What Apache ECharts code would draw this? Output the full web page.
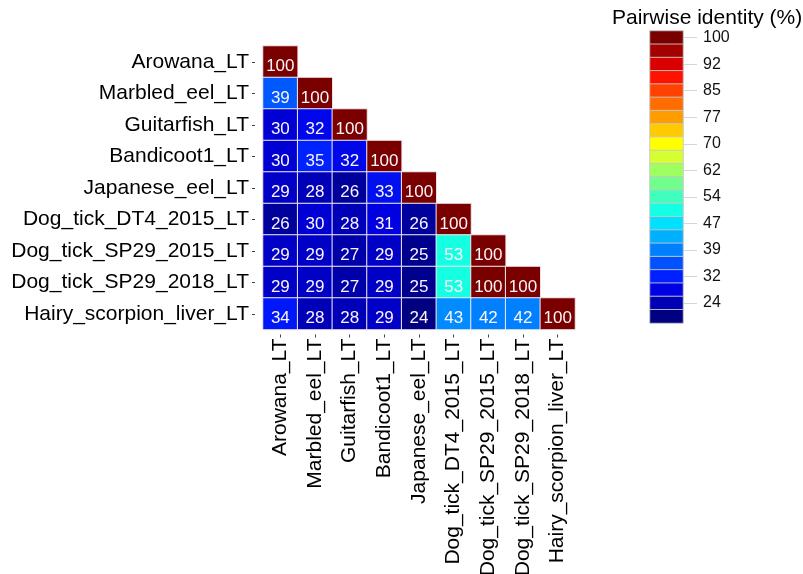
<!DOCTYPE html>
<html>
<head>
<meta charset="utf-8">
<script src="https://cdn.jsdelivr.net/npm/echarts@6/dist/echarts.min.js"></script>
<style>
  html, body { margin: 0; padding: 0; background: #ffffff; }
  #chart { width: 803px; height: 574px; }
</style>
</head>
<body>
<div id="chart"></div>
<script>
// Sample names (rows top to bottom, columns left to right)
const names = [
  'Arowana_LT', 'Marbled_eel_LT', 'Guitarfish_LT', 'Bandicoot1_LT',
  'Japanese_eel_LT', 'Dog_tick_DT4_2015_LT', 'Dog_tick_SP29_2015_LT',
  'Dog_tick_SP29_2018_LT', 'Hairy_scorpion_liver_LT'
];

// Lower-triangle pairwise identity (%), one array per row
const row0 = [100];
const row1 = [39, 100];
const row2 = [30, 32, 100];
const row3 = [30, 35, 32, 100];
const row4 = [29, 28, 26, 33, 100];
const row5 = [26, 30, 28, 31, 26, 100];
const row6 = [29, 29, 27, 29, 25, 53, 100];
const row7 = [29, 29, 27, 29, 25, 53, 100, 100];
const row8 = [34, 28, 28, 29, 24, 43, 42, 42, 100];
const identityRows = [row0, row1, row2, row3, row4, row5, row6, row7, row8];

// Colour key: blocks from top (high) to bottom (low)
const keyColors = [
  '#7a0000', '#a40000', '#d80000', '#ff1200', '#ff4200', '#ff6c00',
  '#ff9c00', '#ffca00', '#ffff00', '#d4ff30', '#a0ff60', '#70ff8c',
  '#40ffbc', '#14ffe4', '#00e0ff', '#00b0ff', '#0080ff', '#0052ff',
  '#0020ff', '#0000e4', '#0000b4', '#000080'
];
// Key tick labels, one for every second block starting at the top
const keyTicks = ['100', '92', '85', '77', '70', '62', '54', '47', '39', '32', '24'];

const valueMin = 24;
const valueMax = 100;

// Heatmap cells [col, row, value]
const cells = [];
identityRows.forEach((vals, r) => {
  vals.forEach((v, c) => cells.push([c, r, v]));
});

// Key blocks, one per colour
const keyRows = keyColors.map((_, i) => i);
const keyLabels = keyRows.map(i => (i % 2 === 0 ? keyTicks[i / 2] : ''));
const keyCells = keyColors.map((col, i) => ({ value: [0, i, i], itemStyle: { color: col } }));

const font = "'Liberation Sans', Arial, sans-serif";

const chart = echarts.init(document.getElementById('chart'), null, { renderer: 'canvas' });
chart.setOption({
  backgroundColor: '#ffffff',
  animation: false,
  title: {
    text: 'Pairwise identity (%)',
    left: 607,
    top: 3,
    textStyle: { fontFamily: font, fontSize: 21, fontWeight: 'normal', color: '#000' }
  },
  grid: [
    { left: 263, top: 46, width: 312, height: 283.5, containLabel: false, outerBoundsMode: 'none' },
    { left: 650, top: 31, width: 33, height: 292, containLabel: false, outerBoundsMode: 'none' }
  ],
  xAxis: [
    {
      type: 'category', gridIndex: 0, data: names, position: 'bottom', offset: 5,
      axisLine: { show: false },
      axisTick: { show: true, alignWithLabel: true, length: 3, lineStyle: { color: '#444' } },
      axisLabel: { rotate: 90, interval: 0, margin: 4, fontFamily: font, fontSize: 21, color: '#000' },
      splitLine: { show: false }
    },
    {
      type: 'category', gridIndex: 1, data: [''],
      axisLine: { show: false }, axisTick: { show: false }, axisLabel: { show: false }
    }
  ],
  yAxis: [
    {
      type: 'category', gridIndex: 0, data: names, inverse: true, offset: 8,
      axisLine: { show: false },
      axisTick: { show: true, alignWithLabel: true, length: 3, lineStyle: { color: '#444' } },
      axisLabel: { interval: 0, margin: 6, fontFamily: font, fontSize: 21, color: '#000' },
      splitLine: { show: false }
    },
    {
      type: 'category', gridIndex: 1, data: keyLabels, inverse: true, position: 'right',
      axisLine: { show: false },
      axisTick: {
        show: true, alignWithLabel: true, length: 14,
        interval: (idx) => idx % 2 === 0,
        lineStyle: { color: '#d6d6d6', width: 1 }
      },
      axisLabel: { interval: 0, margin: 20, fontFamily: font, fontSize: 16, color: '#111' }
    }
  ],
  visualMap: {
    type: 'continuous', show: false, seriesIndex: 0, dimension: 2,
    min: valueMin, max: valueMax,
    inRange: { color: keyColors.slice().reverse() }
  },
  series: [
    {
      type: 'heatmap', xAxisIndex: 0, yAxisIndex: 0, data: cells,
      itemStyle: { borderColor: '#f2eaf0', borderWidth: 1 },
      label: {
        show: true, color: '#fbf4fa', offset: [0, 5],
        fontFamily: font, fontSize: 17,
        formatter: (p) => String(p.value[2])
      },
      emphasis: { disabled: true }
    },
    {
      type: 'heatmap', xAxisIndex: 1, yAxisIndex: 1, data: keyCells,
      itemStyle: { borderColor: 'rgba(200,200,200,0.9)', borderWidth: 1 },
      label: { show: false },
      emphasis: { disabled: true }
    }
  ]
});
</script>
</body>
</html>
